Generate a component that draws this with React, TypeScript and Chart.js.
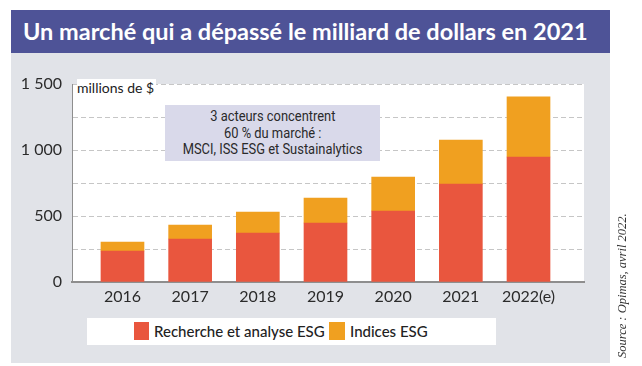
import React, { useEffect, useRef } from "react";
import { Chart, registerables } from "chart.js";

Chart.register(...registerables);

const years = ["2016", "2017", "2018", "2019", "2020", "2021", "2022(e)"];
const recherche = [235, 326, 371, 447, 538, 742, 947];
const indicesTotal = [303, 432, 530, 636, 795, 1076, 1402];
const indices = indicesTotal.map((t, i) => t - recherche[i]);
const yTicks = [0, 500, 1000, 1500];

const RED = "#e9563e";
const ORANGE = "#f0a020";
const FONT = "Lato, 'Noto Sans', sans-serif";

const whiteArea = {
  id: "whiteArea",
  beforeDraw(chart: any) {
    const { ctx, chartArea } = chart;
    ctx.save();
    ctx.fillStyle = "#ffffff";
    ctx.fillRect(chartArea.left, chartArea.top, chartArea.right - chartArea.left, chartArea.bottom - chartArea.top);
    ctx.restore();
  },
};

function fmt(v: number) {
  if (v >= 1000) {
    const s = String(v);
    return s.slice(0, s.length - 3) + " " + s.slice(s.length - 3);
  }
  return String(v);
}

export default function App() {
  const ref = useRef<HTMLCanvasElement>(null);
  useEffect(() => {
    const chart = new Chart(ref.current!, {
      type: "bar",
      data: {
        datasets: [
          {
            label: "Recherche et analyse ESG",
            data: recherche.map((y, i) => ({ x: i, y })),
            backgroundColor: RED,
            barThickness: 43,
          },
          {
            label: "Indices ESG",
            data: indices.map((y, i) => ({ x: i, y })),
            backgroundColor: ORANGE,
            barThickness: 43,
          },
        ],
      },
      options: {
        animation: false,
        responsive: false,
        layout: { padding: { left: 0, top: 84, right: 58, bottom: 54 } },
        plugins: { legend: { display: false }, tooltip: { enabled: false } },
        scales: {
          x: {
            type: "linear",
            stacked: true,
            offset: false,
            min: -0.746,
            max: 6.82,
            afterFit: (s: any) => {
              s.height = 30;
            },
            grid: { display: true, offset: false, drawOnChartArea: false, drawTicks: false, color: "rgba(0,0,0,0)" },
            border: { display: true, color: "#8e8e8e", width: 2 },
            ticks: {
              stepSize: 1,
              includeBounds: false,
              padding: 5,
              color: "#2b2b2b",
              font: { family: FONT, size: 16 },
              callback: (v: any) => (Number.isInteger(v) && years[v] ? years[v] : ""),
              autoSkip: false,
              maxRotation: 0,
            },
          },
          y: {
            stacked: true,
            min: 0,
            max: 1500,
            afterFit: (s: any) => {
              s.width = 72;
            },
            grid: { color: "#c6c6c6", lineWidth: 1, drawTicks: false },
            border: { display: true, color: "#8e8e8e", width: 1, dash: [5, 3] },
            ticks: {
              stepSize: 250,
              padding: 10,
              color: "#2b2b2b",
              font: { family: FONT, size: 16 },
              callback: (v: any) => (yTicks.includes(v) ? fmt(v) : ""),
            },
          },
        },
      },
      plugins: [whiteArea],
    } as any);
    return () => chart.destroy();
  }, []);

  const narrow: React.CSSProperties = { display: "inline-block", transform: "scaleX(0.86)", whiteSpace: "nowrap" };

  return (
    <div style={{ position: "absolute", left: 0, top: 0, width: 642, height: 366, background: "#fff", fontFamily: FONT, overflow: "hidden" }}>
      <div style={{ position: "absolute", left: 11, top: 53, width: 599, height: 310, background: "#e1e3e8" }} />
      <div
        style={{
          position: "absolute",
          left: 11,
          top: 10,
          width: 599,
          height: 43,
          background: "#4e5397",
          color: "#fff",
          fontWeight: 700,
          fontSize: 23.5,
          lineHeight: "43px",
          paddingLeft: 12,
          boxSizing: "border-box",
          whiteSpace: "nowrap",
        }}
      >
        Un marché qui a dépassé le milliard de dollars en 2021
      </div>
      <canvas ref={ref} width={642} height={366} style={{ position: "absolute", left: 0, top: 0 }} />
      <div style={{ position: "absolute", left: 77, top: 79, fontSize: 14, color: "#222", background: "#fff", paddingRight: 2, lineHeight: "18px" }}>
        millions de $
      </div>
      <div
        style={{
          position: "absolute",
          left: 165,
          top: 105,
          width: 215,
          height: 56,
          background: "#d9d9ea",
          color: "#2a2a2a",
          fontFamily: "Roboto, 'Noto Sans', sans-serif",
          fontSize: 15,
          lineHeight: "16.5px",
          textAlign: "center",
          paddingTop: 3,
          boxSizing: "border-box",
        }}
      >
        <span style={narrow}>3 acteurs concentrent</span>
        <br />
        <span style={narrow}>60 % du marché :</span>
        <br />
        <span style={narrow}>MSCI, ISS ESG et Sustainalytics</span>
      </div>
      <div style={{ position: "absolute", left: 87, top: 318, width: 409, height: 27, background: "#fff" }}>
        <div style={{ position: "absolute", left: 47, top: 4, width: 15, height: 18, background: RED }} />
        <div style={{ position: "absolute", left: 67, top: 3, fontSize: 15, fontWeight: 500, color: "#222", lineHeight: "20px", whiteSpace: "nowrap" }}>
          Recherche et analyse ESG
        </div>
        <div style={{ position: "absolute", left: 242, top: 4, width: 16, height: 18, background: ORANGE }} />
        <div style={{ position: "absolute", left: 263, top: 3, fontSize: 15, fontWeight: 500, color: "#222", lineHeight: "20px", whiteSpace: "nowrap" }}>
          Indices ESG
        </div>
      </div>
      <div
        style={{
          position: "absolute",
          left: 615,
          top: 358,
          transform: "rotate(-90deg)",
          transformOrigin: "left top",
          fontFamily: "'Liberation Serif', 'DejaVu Serif', serif",
          fontStyle: "italic",
          fontSize: 12.5,
          lineHeight: "15px",
          color: "#333",
          whiteSpace: "nowrap",
        }}
      >
        Source : Opimas, avril 2022.
      </div>
    </div>
  );
}
